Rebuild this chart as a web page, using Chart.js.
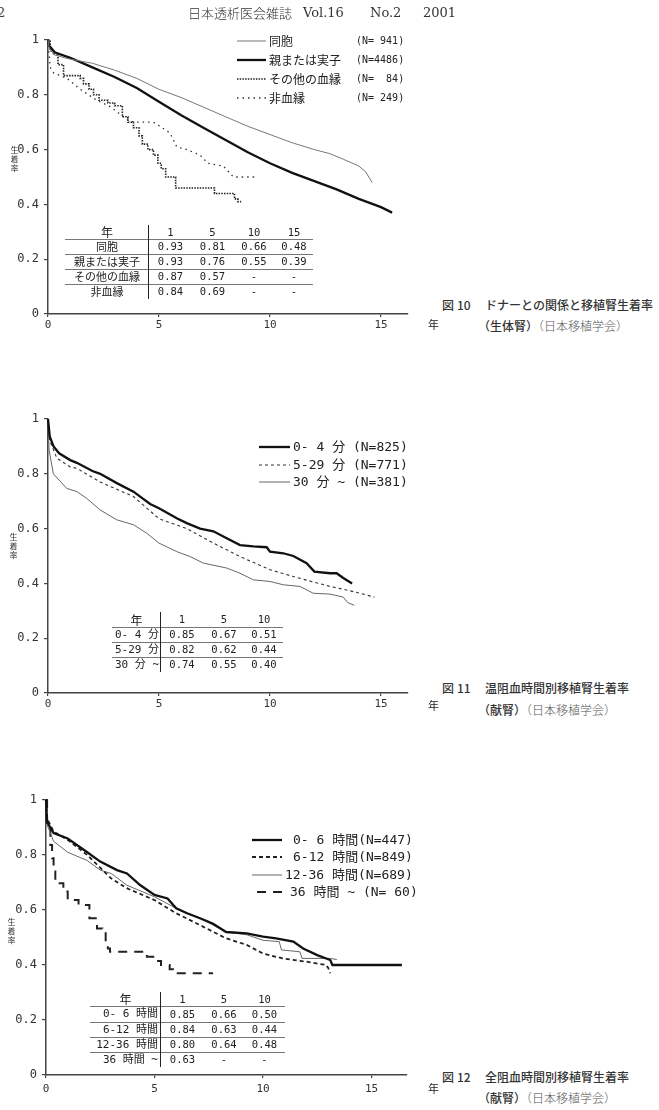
<!DOCTYPE html>
<html><head><meta charset="utf-8">
<script src="https://cdn.jsdelivr.net/npm/chart.js@4"></script>
<style>
html,body{margin:0;padding:0;background:#fff}
body{width:659px;height:1110px;position:relative;overflow:hidden;font-family:"Noto Sans CJK JP",sans-serif;color:#222}
.abs{position:absolute;white-space:pre;line-height:1}
canvas{position:absolute;left:0}
.mono{font-family:"DejaVu Sans Mono","Noto Sans CJK JP",monospace}
.cap{font-size:12px;color:#333;font-weight:500}
.cap2{font-size:12px;color:#555;font-weight:300}
.ytitle{font-size:8px;line-height:9px;color:#333;text-align:center;width:9px}
</style></head><body>

<canvas id="c1" width="440" height="320" style="top:20px"></canvas>
<canvas id="c2" width="440" height="320" style="top:400px"></canvas>
<canvas id="c3" width="440" height="320" style="top:780px"></canvas>

<div class="abs" style="left:-3px;top:6px;font-size:13px;font-family:'DejaVu Serif',serif;color:#444">2</div>
<div class="abs" style="left:188px;top:6px;font-size:13px;font-weight:300;color:#333">日本透析医会雑誌</div>
<div class="abs" style="left:303px;top:6px;font-size:13px;font-family:'DejaVu Serif',serif;color:#333">Vol.16</div>
<div class="abs" style="left:370px;top:6px;font-size:13px;font-family:'DejaVu Serif',serif;color:#333">No.2</div>
<div class="abs" style="left:423px;top:6px;font-size:13px;font-family:'DejaVu Serif',serif;color:#333">2001</div>

<div class="abs ytitle" style="left:10px;top:145px">生<br>着<br>率</div>
<div class="abs ytitle" style="left:9px;top:532px">生<br>着<br>率</div>
<div class="abs ytitle" style="left:7px;top:917px">生<br>着<br>率</div>

<div class="abs" style="left:428px;top:319px;font-size:11px">年</div>
<div class="abs" style="left:428px;top:700px;font-size:11px">年</div>
<div class="abs" style="left:428px;top:1083px;font-size:11px">年</div>

<div class="abs cap" style="left:442px;top:299px">図<span style="margin-left:3px">10</span></div>
<div class="abs cap" style="left:485px;top:299px">ドナーとの関係と移植腎生着率</div>
<div class="abs" style="left:478px;top:316px"><span class="cap">（生体腎）</span><span class="cap2">（日本移植学会）</span></div>

<div class="abs cap" style="left:442px;top:682px">図<span style="margin-left:3px">11</span></div>
<div class="abs cap" style="left:485px;top:682px">温阻血時間別移植腎生着率</div>
<div class="abs" style="left:478px;top:700px"><span class="cap">（献腎）</span><span class="cap2">（日本移植学会）</span></div>

<div class="abs cap" style="left:442px;top:1071px">図<span style="margin-left:3px">12</span></div>
<div class="abs cap" style="left:485px;top:1071px">全阻血時間別移植腎生着率</div>
<div class="abs" style="left:478px;top:1088px"><span class="cap">（献腎）</span><span class="cap2">（日本移植学会）</span></div>

<script>
// ================= DATA =================
const xTickVals = [0, 5, 10, 15];
const xTickLabels = ['0', '5', '10', '15'];
const yTickVals = [0, 0.2, 0.4, 0.6, 0.8, 1];
const yTickLabels = ['0', '0.2', '0.4', '0.6', '0.8', '1'];

// --- Fig.10 donor relationship ---
const fig10Names = ['同胞', '親または実子', 'その他の血縁', '非血縁'];
const fig10N = ['(N= 941)', '(N=4486)', '(N=  84)', '(N= 249)'];
const doho_x = [0,0.05,0.3,1,2,3,4,5,6,7,8,9,10,11,12,12.7,13.3,14,14.3,14.6];
const doho_y = [1,0.97,0.945,0.93,0.915,0.89,0.86,0.82,0.79,0.755,0.72,0.685,0.655,0.625,0.6,0.585,0.565,0.54,0.52,0.48];
const oya_x = [0,0.05,0.3,1,2,3,4,5,6,7,8,9,10,11,12,13,14,15,15.5];
const oya_y = [1,0.98,0.955,0.935,0.9,0.865,0.825,0.775,0.725,0.68,0.635,0.59,0.55,0.515,0.485,0.455,0.42,0.39,0.37];
const sonota_x = [0,0.1,0.25,0.45,0.7,1.45,1.6,1.85,2.05,2.3,2.7,3.0,3.35,3.6,3.85,4.1,4.25,4.5,4.75,4.95,5.1,5.3,5.75,7.5,8.4,8.55,8.7];
const sonota_y = [1,0.96,0.95,0.91,0.87,0.86,0.84,0.82,0.80,0.78,0.77,0.76,0.72,0.70,0.68,0.65,0.62,0.60,0.58,0.55,0.53,0.50,0.46,0.44,0.42,0.41,0.41];
const hiketsu_x = [0,0.1,0.25,0.85,1.45,2.2,2.8,3.4,3.85,4.75,5.05,5.5,5.8,6.25,6.85,7.2,7.9,8.35,9.4];
const hiketsu_y = [1,0.9,0.88,0.86,0.82,0.78,0.757,0.72,0.70,0.70,0.685,0.66,0.61,0.60,0.58,0.55,0.54,0.50,0.50];
const table10Years = ['1','5','10','15'];
const table10Vals = [['0.93','0.81','0.66','0.48'],['0.93','0.76','0.55','0.39'],['0.87','0.57','-','-'],['0.84','0.69','-','-']];

// --- Fig.11 warm ischemia ---
const fig11Legend = ['0- 4 分 (N=825)', '5-29 分 (N=771)', '30 分 ~ (N=381)'];
const fig11Rows = ['0- 4 分', '5-29 分', '30 分 ~'];
const w04_x = [0,0.08,0.25,0.5,1,1.3,2,2.35,3.1,3.85,4.6,5,5.8,6.25,6.85,7.45,8.05,8.65,9.25,9.85,10,10.6,11.05,11.65,12,12.7,13.0,13.3,13.7];
const w04_y = [1,0.936,0.9,0.875,0.85,0.84,0.81,0.80,0.766,0.735,0.69,0.674,0.638,0.62,0.60,0.59,0.565,0.54,0.535,0.532,0.516,0.51,0.50,0.474,0.443,0.437,0.437,0.42,0.40];
const w529_x = [0,0.08,0.4,1,1.3,2.35,3.85,5,6.25,7.45,8.65,10,11.05,12.7,13.5,14,14.7];
const w529_y = [1,0.92,0.857,0.825,0.82,0.77,0.717,0.636,0.60,0.547,0.498,0.45,0.425,0.389,0.375,0.365,0.35];
const w30_x = [0,0.05,0.24,0.84,1.3,1.75,2.35,3.1,3.85,4.45,5,5.8,6.4,7,8.05,8.65,9.25,10,10.6,11.35,11.95,12.7,13.3,13.5,13.8];
const w30_y = [1,0.887,0.80,0.747,0.735,0.71,0.668,0.632,0.614,0.583,0.547,0.516,0.498,0.474,0.456,0.437,0.413,0.407,0.395,0.389,0.364,0.361,0.35,0.33,0.32];
const table11Years = ['1','5','10'];
const table11Vals = [['0.85','0.67','0.51'],['0.82','0.62','0.44'],['0.74','0.55','0.40']];

// --- Fig.12 total ischemia ---
const fig12Legend = ['0- 6 時間(N=447)', '6-12 時間(N=849)', '12-36 時間(N=689)', '36 時間 ~ (N= 60)'];
const fig12Rows = ['0- 6 時間', '6-12 時間', '12-36 時間', '36 時間 ~'];
const t06_x = [0,0.05,0.35,1,1.9,2.5,3.27,3.73,4.35,5,5.6,6,6.5,7.1,7.7,8.3,9.25,10,10.6,11.4,11.85,12.5,13.1,13.2,16.4];
const t06_y = [1,0.92,0.88,0.86,0.81,0.776,0.745,0.733,0.69,0.655,0.642,0.606,0.588,0.57,0.55,0.52,0.515,0.503,0.497,0.485,0.46,0.436,0.418,0.40,0.40];
const t612_x = [0,0.05,0.35,1,1.9,3,3.7,5,6,7.1,8.3,9.25,10,10.9,12,12.9,13.0,13.1];
const t612_y = [1,0.933,0.885,0.855,0.80,0.715,0.68,0.636,0.588,0.545,0.497,0.473,0.442,0.424,0.412,0.40,0.39,0.37];
const t1236_x = [0,0.05,0.35,1,1.9,2.5,3,3.73,5,6,7.1,8.3,9.25,10,10.75,10.85,11.7,11.8,13.1,13.4];
const t1236_y = [1,0.91,0.85,0.81,0.78,0.745,0.733,0.69,0.648,0.606,0.57,0.52,0.51,0.49,0.485,0.455,0.448,0.424,0.424,0.42];
const t36_x = [0,0.05,0.2,0.28,0.35,0.43,0.8,1.0,1.5,2.0,2.35,2.6,2.75,2.85,2.95,4.5,4.65,5.1,5.3,5.7,5.85,7.7];
const t36_y = [1,0.90,0.836,0.788,0.74,0.697,0.667,0.636,0.618,0.57,0.533,0.52,0.479,0.46,0.448,0.448,0.43,0.415,0.40,0.385,0.37,0.37];
const table12Years = ['1','5','10'];
const table12Vals = [['0.85','0.66','0.50'],['0.84','0.63','0.44'],['0.80','0.64','0.48'],['0.63','-','-']];

// ================= STYLES =================
const S_thick = {color:'#111', w:2.3};
const S_thin = {color:'#777', w:1};

function pts(xs, ys){ return xs.map((v,i)=>({x:v, y:ys[i]})); }

function kmChart(id, geo, series){
  const W = 440;
  const R = W - (geo.yW + geo.xmax*geo.ppy);
  new Chart(document.getElementById(id), {
    type:'line',
    data:{datasets: series.map(s=>({
      data: pts(s.x, s.y), borderColor:s.color, borderWidth:s.w,
      borderDash:s.dash||[], stepped:s.step||false, pointRadius:0,
      tension:0, fill:false, clip:false, borderCapStyle:'butt'
    }))},
    options:{
      responsive:false, animation:false, events:[],
      layout:{padding:{top:geo.padTop, left:0, right:R, bottom:0}},
      plugins:{legend:{display:false}, tooltip:{enabled:false}},
      scales:{
        x:{type:'linear', min:0, max:geo.xmax,
          afterFit:s=>{s.height=geo.xH;},
          afterBuildTicks:s=>{s.ticks = xTickVals.map(v=>({value:v}));},
          ticks:{callback:v=>xTickLabels[xTickVals.indexOf(v)], font:{family:'DejaVu Sans Mono', size:11}, color:'#333', padding:geo.xPad, maxRotation:0, autoSkip:false},
          grid:{display:true, drawOnChartArea:false, drawTicks:true, tickLength:3, color:'#444', lineWidth:1.2},
          border:{display:true, color:'#444', width:1.5}},
        y:{type:'linear', min:0, max:1,
          afterFit:s=>{s.width=geo.yW;},
          afterBuildTicks:s=>{s.ticks = yTickVals.map(v=>({value:v}));},
          ticks:{callback:v=>yTickLabels[yTickVals.indexOf(v)], font:{family:'DejaVu Sans Mono', size:12}, color:'#333', padding:5, autoSkip:false},
          grid:{display:true, drawOnChartArea:false, drawTicks:true, tickLength:4, color:'#444', lineWidth:1.2},
          border:{display:true, color:'#444', width:1.5}}
      }
    }
  });
}

kmChart('c1', {yW:48, padTop:20, xH:26, xmax:16.2, ppy:22.2, xPad:2}, [
  {x:doho_x, y:doho_y, ...S_thin},
  {x:oya_x, y:oya_y, ...S_thick},
  {x:sonota_x, y:sonota_y, color:'#222', w:1.6, dash:[1.5,1.2], step:true},
  {x:hiketsu_x, y:hiketsu_y, color:'#333', w:1.3, dash:[1.5,4]}
]);
kmChart('c2', {yW:48, padTop:19, xH:27, xmax:16.2, ppy:22.2, xPad:2}, [
  {x:w04_x, y:w04_y, ...S_thick},
  {x:w529_x, y:w529_y, color:'#333', w:1.1, dash:[3,3]},
  {x:w30_x, y:w30_y, color:'#666', w:1}
]);
kmChart('c3', {yW:46, padTop:20, xH:25, xmax:16.6, ppy:21.7, xPad:5}, [
  {x:t06_x, y:t06_y, ...S_thick},
  {x:t612_x, y:t612_y, color:'#222', w:1.8, dash:[4,3]},
  {x:t1236_x, y:t1236_y, color:'#666', w:1},
  {x:t36_x, y:t36_y, color:'#222', w:2, dash:[9,7], step:true}
]);

// ================= OVERLAYS =================
function el(html, style, cls){
  const d = document.createElement('div');
  d.className = 'abs' + (cls ? ' '+cls : '');
  d.textContent = html;
  Object.assign(d.style, style);
  document.body.appendChild(d);
  return d;
}
function sample(x1, x2, y, st){
  const svgNS = 'http://www.w3.org/2000/svg';
  const svg = document.createElementNS(svgNS, 'svg');
  svg.setAttribute('width', x2-x1+4); svg.setAttribute('height', 8);
  svg.style.position='absolute'; svg.style.left=(x1-2)+'px'; svg.style.top=(y-4)+'px';
  const l = document.createElementNS(svgNS, 'line');
  l.setAttribute('x1', 2); l.setAttribute('x2', x2-x1+2); l.setAttribute('y1', 4); l.setAttribute('y2', 4);
  l.setAttribute('stroke', st.color); l.setAttribute('stroke-width', st.w);
  if (st.dash) l.setAttribute('stroke-dasharray', st.dash.join(' '));
  svg.appendChild(l); document.body.appendChild(svg);
}

// Legend fig10
const lg10Styles = [S_thin, S_thick, {color:'#222', w:1.6, dash:[1.5,1.2]}, {color:'#333', w:1.3, dash:[1.5,4]}];
[41,60,79,98].forEach((y,i)=>{
  sample(237, 266, y, lg10Styles[i]);
  el(fig10Names[i], {left:'269px', top:(y-6.5)+'px', fontSize:'12px'});
  el(fig10N[i], {left:'356px', top:(y-5.5)+'px', fontSize:'10px'}, 'mono');
});
// Legend fig11
const lg11Styles = [S_thick, {color:'#333', w:1.1, dash:[3,3]}, {color:'#666', w:1}];
[447,464.5,482].forEach((y,i)=>{
  sample(259, 290, y, lg11Styles[i]);
  el(fig11Legend[i], {left:'293px', top:(y-7)+'px', fontSize:'13px'}, 'mono');
});
// Legend fig12
const lg12Styles = [S_thick, {color:'#222', w:1.8, dash:[4,3]}, {color:'#666', w:1}, {color:'#222', w:2, dash:[9,7]}];
const lg12Left = [293, 293, 285, 290];
const lg12S1 = [252, 252, 252, 257];
[840,857,875,892].forEach((y,i)=>{
  sample(lg12S1[i], 282, y, lg12Styles[i]);
  el(fig12Legend[i], {left:lg12Left[i]+'px', top:(y-7)+'px', fontSize:'13px'}, 'mono');
});

// Tables
function table(cfg){
  const {colX, ys, header, rows, vals, labelAlign, labelFont, numFont} = cfg;
  const nR = ys.length-1, nC = colX.length-1;
  for (let r=0; r<nR; r++){
    for (let c=0; c<nC; c++){
      let txt;
      if (r===0) txt = (c===0) ? '年' : header[c-1];
      else txt = (c===0) ? rows[r-1] : vals[r-1][c-1];
      const st = {left:colX[c]+'px', top:ys[r]+'px', width:(colX[c+1]-colX[c])+'px',
        height:(ys[r+1]-ys[r])+'px', lineHeight:(ys[r+1]-ys[r])+'px', textAlign:'center', fontSize:numFont+'px', boxSizing:'border-box'};
      let cls = 'mono';
      if (c===0){
        st.fontSize = labelFont+'px';
        if (r>0){ st.textAlign = labelAlign; st.paddingLeft='3px'; st.paddingRight='3px'; }
        if (r===0) { cls=''; st.fontSize='12px'; }
        else if (cfg.labelCJK) cls='';
      }
      el(txt, st, cls);
    }
  }
  for (let r=1; r<nR; r++){
    const d = document.createElement('div');
    Object.assign(d.style, {position:'absolute', left:colX[0]+'px', width:(colX[nC]-colX[0])+'px', top:ys[r]+'px', height:'0', borderTop:'1px solid #777'});
    document.body.appendChild(d);
  }
  const v = document.createElement('div');
  Object.assign(v.style, {position:'absolute', left:(colX[1]-1)+'px', top:ys[0]+'px', height:(ys[nR]-ys[0])+'px', width:'0', borderLeft:'1.5px solid #222'});
  document.body.appendChild(v);
}
table({colX:[65,149,192,233,275,313], ys:[225,239,254,269,284,299], header:table10Years, rows:fig10Names, vals:table10Vals, labelAlign:'center', labelFont:11, numFont:10.5, labelCJK:true});
table({colX:[112,161,203,245,283], ys:[612,627,642,657,672], header:table11Years, rows:fig11Rows, vals:table11Vals, labelAlign:'left', labelFont:11, numFont:10.5});
table({colX:[90,161,204,244,285], ys:[992,1006,1022,1037,1052,1067], header:table12Years, rows:fig12Rows, vals:table12Vals, labelAlign:'right', labelFont:11, numFont:10.5});
</script>
</body></html>
